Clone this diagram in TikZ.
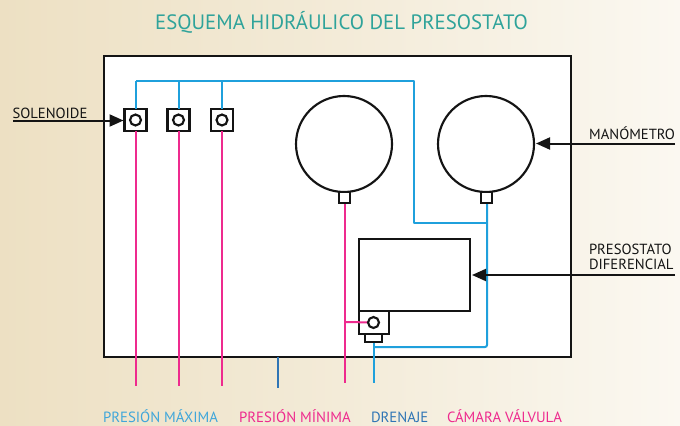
\documentclass[tikz,border=0pt]{standalone}
\usepackage{fontspec}
\setmainfont{PT Sans}
\usetikzlibrary{arrows.meta}
\definecolor{bgl}{HTML}{EDE0C3}
\definecolor{bgm}{HTML}{F3EBD8}
\definecolor{bgr}{HTML}{FBF8F1}
\definecolor{hblue}{HTML}{1FA0DC}
\definecolor{dblue}{HTML}{2F75B5}
\definecolor{hpink}{HTML}{EE2A8E}
\definecolor{ink}{HTML}{141414}
\definecolor{teal1}{HTML}{2FA39A}
\definecolor{lblblue}{HTML}{3FA6DA}
\tikzset{
  x=0.75pt,y=-0.75pt,
  box/.style={draw=ink,line width=1.6pt,fill=white,inner sep=0pt,outer sep=0pt},
  blueline/.style={draw=hblue,line width=1.5pt},
  pinkline/.style={draw=hpink,line width=1.5pt},
  darkline/.style={draw=dblue,line width=1.5pt},
  pointer/.style={draw=ink,line width=1.5pt,-{Triangle[length=10.5pt,width=9pt]}},
  gauge/.style={circle,draw=ink,line width=1.6pt,fill=white,minimum size=72pt,inner sep=0pt,outer sep=0pt},
  port/.style={circle,draw=ink,line width=1.6pt,fill=white,minimum size=8.2pt,inner sep=0pt,outer sep=0pt},
  valve/.style={draw=ink,line width=1.6pt,fill=white,minimum size=16.5pt,inner sep=0pt,outer sep=0pt},
  stem/.style={draw=ink,line width=1.3pt,fill=white,minimum size=8pt,inner sep=0pt,outer sep=0pt},
  lbl/.style={font=\fontsize{11pt}{11pt}\selectfont,inner sep=0pt,outer sep=0pt,text=ink},
  botlbl/.style={font=\fontsize{11.1pt}{11.1pt}\selectfont,inner sep=0pt,outer sep=0pt,anchor=base west},
}
\begin{document}
\begin{tikzpicture}
\useasboundingbox (0,0) rectangle (680,425);
\shade[left color=bgl,right color=bgr,middle color=bgm] (0,0) rectangle (680,425);
\node[font=\fontsize{15.6pt}{15.6pt}\selectfont,text=teal1,inner sep=0pt,anchor=base] (title) at (341.5,29.5) {ESQUEMA HIDRÁULICO DEL PRESOSTATO};
\node[draw=ink,line width=1.7pt,fill=white,minimum width=350.5pt,minimum height=226pt,inner sep=0pt,outer sep=0pt] (frame) at (337.5,206.5) {};

% free ends
\coordinate (p1end) at (136,386);
\coordinate (p2end) at (179,386);
\coordinate (p3end) at (222,386);
\coordinate (gl) at (345,383);
\coordinate (dr) at (374,383);
\coordinate (dra) at (278,357);
\coordinate (drb) at (278,388);
\coordinate (top1) at (136,81);
\coordinate (top2) at (179,81);
\coordinate (top3) at (222,81);
\coordinate (topr) at (414,81);
\coordinate (mid) at (414,223);
\coordinate (midr) at (487,223);
\coordinate (lowr) at (487,347);
\coordinate (lowl) at (374,347);
\coordinate (brp) at (345,322);

% pipes
\draw[darkline] (dra) -- (drb);
\draw[blueline,line join=round] (top1) -- (topr) -- (mid) -- (midr);
\draw[blueline,rounded corners=1.5pt] (487,200) -- (lowr) -- (lowl);
\draw[blueline] (374,340) -- (dr);
\draw[pinkline] (345,200) -- (gl);

% components
\node[gauge] (g1) at (344,144) {};
\node[gauge] (g2) at (486,144) {};
\node[stem] (s1) at (344.5,197.5) {};
\node[stem] (s2) at (486.5,197.5) {};
\node[box,minimum width=83pt,minimum height=54pt] (ps) at (414.5,275) {};
\node[valve,minimum width=22.5pt,minimum height=17pt] (v0) at (374,322.5) {};
\node[draw=ink,line width=1.3pt,fill=white,minimum width=12.5pt,minimum height=6pt,inner sep=0pt,outer sep=0pt] (vb) at (373.5,338) {};
\node[valve] (v1) at (135.5,120) {};
\node[valve] (v2) at (178.5,120) {};
\node[valve] (v3) at (222,120) {};

\draw[blueline] (top1) -- (top1 |- v1.north);
\draw[blueline] (top2) -- (top2 |- v2.north);
\draw[blueline] (top3) -- (top3 |- v3.north);
\draw[pinkline] (p1end |- v1.south) -- (p1end);
\draw[pinkline] (p2end |- v2.south) -- (p2end);
\draw[pinkline] (p3end |- v3.south) -- (p3end);
\draw[pinkline] (brp) -- (v0.center);

\node[port] (c1) at (135.5,120) {};
\node[port] (c2) at (178.5,120) {};
\node[port] (c3) at (222,120) {};
\node[port] (c0) at (373.5,322.5) {};

% pointers
\node[lbl,anchor=base west] (sol) at (12.5,118) {SOLENOIDE};
\node[lbl,anchor=base east] (man) at (675,139.5) {MANÓMETRO};
\node[lbl,anchor=base west] (pre1) at (589,254) {PRESOSTATO};
\node[lbl,anchor=base west] (pre2) at (589,269.5) {DIFERENCIAL};
\coordinate (sols) at (13,120.5);
\coordinate (mans) at (675,143.5);
\coordinate (pres) at (675,275);
\coordinate (solt) at (123.5,120.5);
\coordinate (mant) at (536,143.5);
\coordinate (pret) at (472,275);
\draw[pointer] (sols) -- (solt);
\draw[pointer] (mans) -- (mant);
\draw[pointer] (pres) -- (pret);

% bottom labels
\node[botlbl,text=lblblue] (l1) at (103,422.5) {PRESIÓN MÁXIMA};
\node[botlbl,text=hpink] (l2) at (239,422.5) {PRESIÓN MÍNIMA};
\node[botlbl,text=dblue] (l3) at (371,422.5) {DRENAJE};
\node[botlbl,text=hpink] (l4) at (447,422.5) {CÁMARA VÁLVULA};
\end{tikzpicture}
\end{document}
